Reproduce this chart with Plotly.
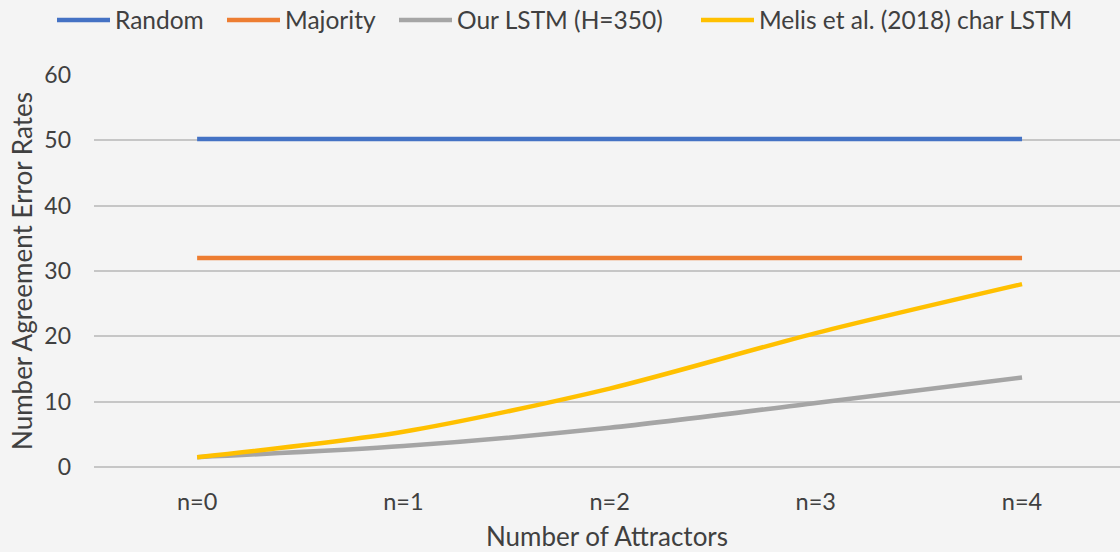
import plotly.graph_objects as go

# Number-agreement error rates by count of attractors
attractors = ["n=0", "n=1", "n=2", "n=3", "n=4"]
random_err = [50.2, 50.2, 50.2, 50.2, 50.2]
majority_err = [32.0, 32.0, 32.0, 32.0, 32.0]
our_lstm_err = [1.5, 3.2, 6.0, 9.8, 13.7]
melis_err = [1.5, 5.4, 12.0, 20.5, 28.0]

series = [
    ("Random", random_err, "#4472C4"),
    ("Majority", majority_err, "#ED7D31"),
    ("Our LSTM (H=350)", our_lstm_err, "#A5A5A5"),
    ("Melis et al. (2018) char LSTM", melis_err, "#FFC000"),
]

FONT = "Lato"
TEXT = "#404040"
W, H = 1120, 552
ML, MR, MT, MB = 94, 0, 75, 85
plot_w = W - ML - MR
plot_h = H - MT - MB

fig = go.Figure()
for name, vals, color in series:
    fig.add_trace(go.Scatter(
        x=attractors, y=vals, name=name, mode="lines", showlegend=False,
        line=dict(color=color, width=4.5, shape="spline", smoothing=0.8),
    ))

# Legend row across the top: swatch line followed by the series name
legend_text_px = [113, 283, 455, 757]
legend_y_px = 20
ly = (H - MB - legend_y_px) / plot_h
for (name, _, color), tx in zip(series, legend_text_px):
    fig.add_shape(
        type="line", xref="paper", yref="paper",
        x0=(tx - 56 - ML) / plot_w, x1=(tx - 3 - ML) / plot_w, y0=ly, y1=ly,
        line=dict(color=color, width=4.5),
    )
    fig.add_annotation(
        xref="paper", yref="paper", x=(tx - ML) / plot_w, y=ly,
        xanchor="left", yanchor="middle", showarrow=False,
        text=name, font=dict(family=FONT, size=24.5, color=TEXT),
    )

fig.update_layout(
    width=W, height=H,
    margin=dict(l=ML, r=MR, t=MT, b=MB),
    paper_bgcolor="#f4f4f4", plot_bgcolor="#f4f4f4",
    font=dict(family=FONT, size=23, color=TEXT),
    showlegend=False,
)

fig.update_xaxes(
    type="category", range=[-0.5, 4.475], automargin=False,
    showgrid=False, zeroline=False, showline=False,
    ticks="", ticklabelstandoff=18,
    tickfont=dict(size=23.5, color=TEXT),
    title=dict(text="Number of Attractors", font=dict(size=26, color=TEXT), standoff=23),
)
fig.update_yaxes(
    range=[0, 60], dtick=10, automargin=False,
    showgrid=True, gridcolor="#c6c6c6", gridwidth=2,
    zeroline=True, zerolinecolor="#c6c6c6", zerolinewidth=2,
    showline=False, ticks="", ticklabelstandoff=22,
    tickfont=dict(size=23, color=TEXT),
    title=dict(text="Number Agreement Error Rates", font=dict(size=26, color=TEXT), standoff=4),
)

fig.write_html("out.html")
